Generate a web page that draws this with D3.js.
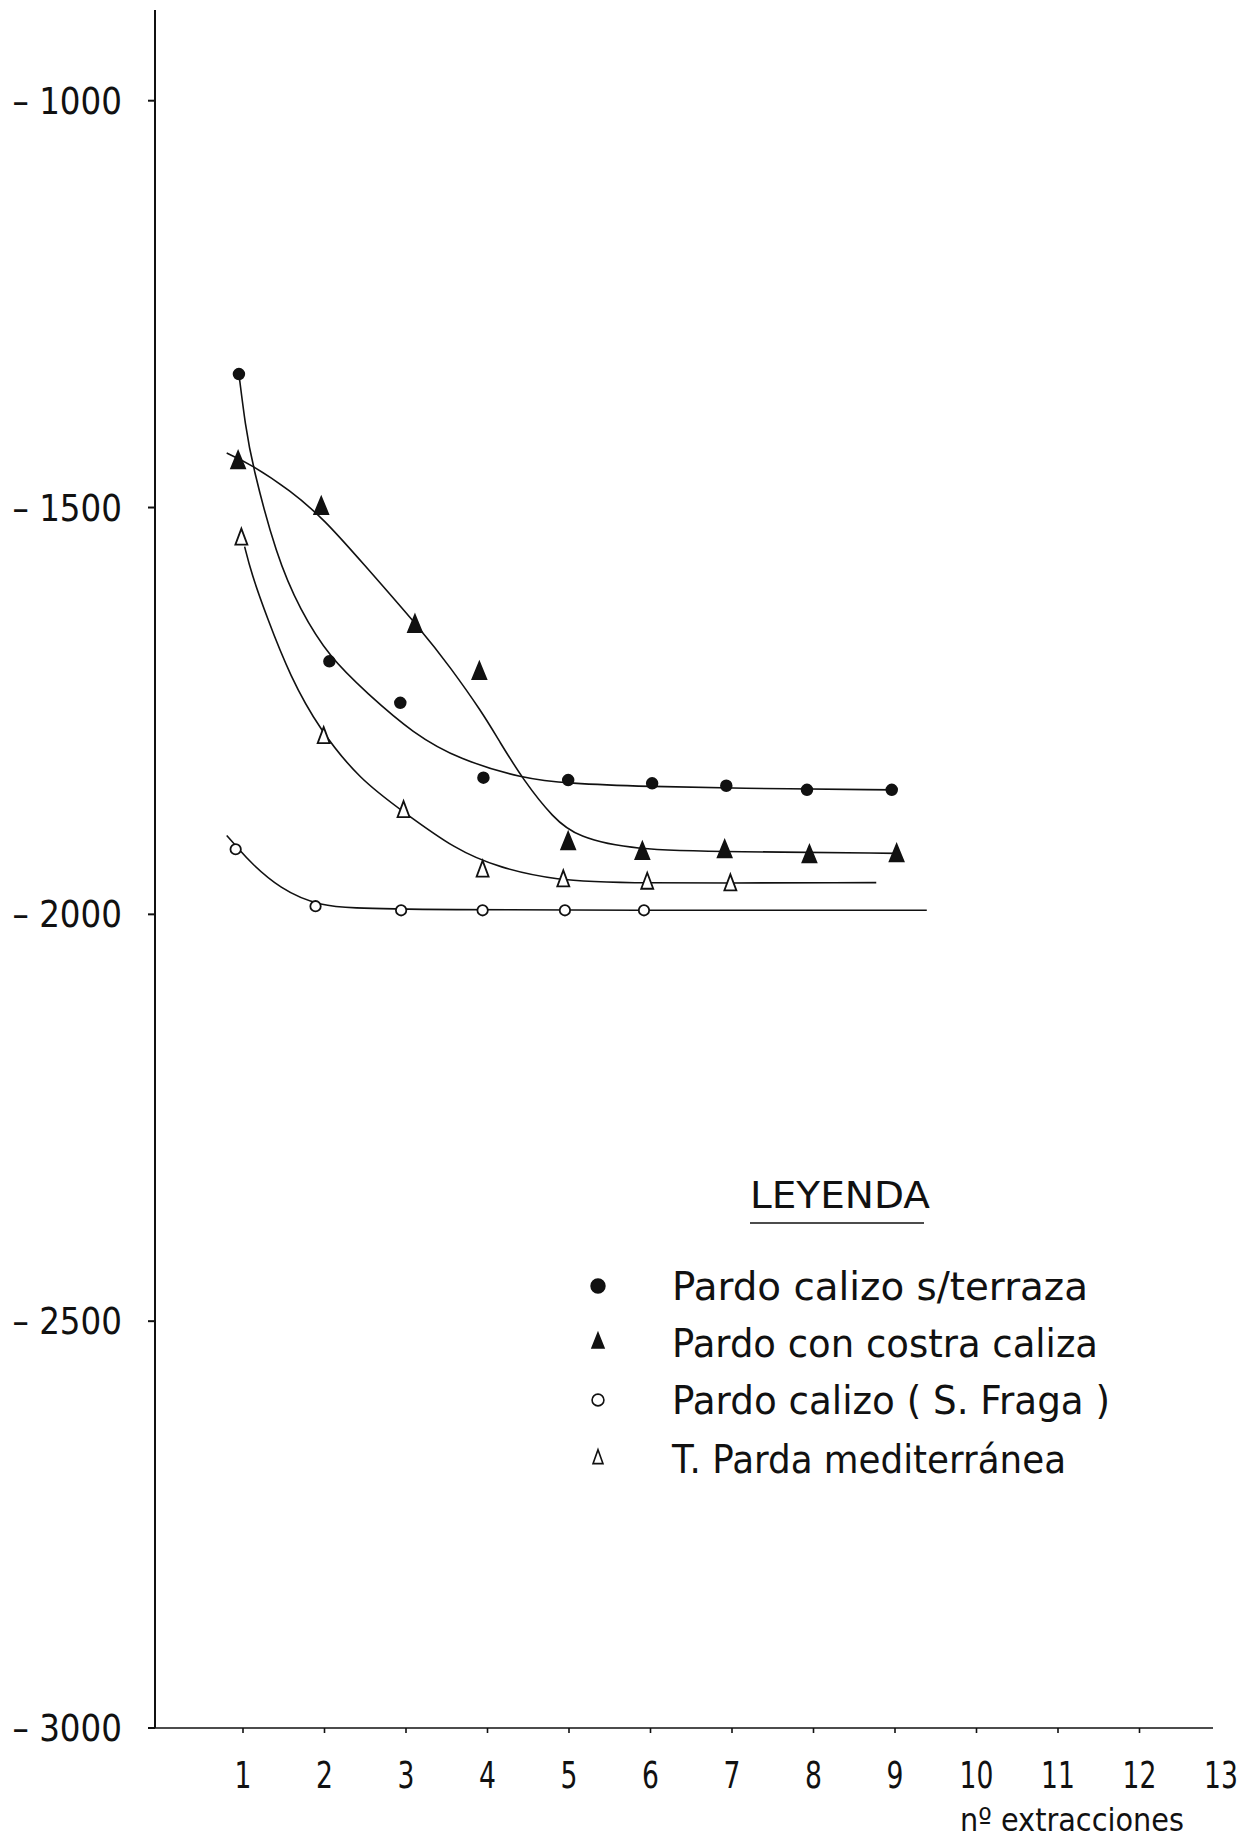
<!DOCTYPE html>
<html>
<head>
<meta charset="utf-8">
<script src="https://cdn.jsdelivr.net/npm/d3@7"></script>
<style>
  body { margin: 0; background: #fff; }
  text { font-family: "DejaVu Sans", "Liberation Sans", sans-serif; fill: #111; }
</style>
</head>
<body>
<div id="chart"></div>
<script>
// valores
const xTicks = [1, 2, 3, 4, 5, 6, 7, 8, 9, 10, 11, 12];
const xLabels = [1, 2, 3, 4, 5, 6, 7, 8, 9, 10, 11, 12, 13];
const yTicks = [-1000, -1500, -2000, -2500, -3000];

const seriesNames = ["Pardo calizo s/terraza", "Pardo con costra caliza", "Pardo calizo ( S. Fraga )", "T. Parda mediterránea"];

// puntos medidos [nº extracciones, valor]
const ptsCalizoTerraza = [[0.95, -1336], [2.06, -1689], [2.93, -1740], [3.95, -1832], [4.99, -1835], [6.02, -1839], [6.93, -1842], [7.92, -1847], [8.96, -1847]];
const ptsCostra = [[0.94, -1445], [1.96, -1501], [3.11, -1646], [3.90, -1704], [4.99, -1913], [5.90, -1925], [6.91, -1923], [7.95, -1929], [9.02, -1928]];
const ptsFraga = [[0.91, -1920], [1.89, -1990], [2.94, -1995], [3.94, -1995], [4.95, -1995], [5.92, -1995]];
const ptsParda = [[0.98, -1539], [1.99, -1783], [2.97, -1874], [3.94, -1947], [4.93, -1959], [5.96, -1962], [6.98, -1964]];

// curvas de ajuste trazadas a mano
const fitCalizoTerraza = [[0.95, -1336], [1.03, -1400], [1.11, -1446], [1.41, -1560], [1.70, -1626], [2.06, -1684], [2.52, -1728], [3.09, -1778], [3.66, -1810], [4.44, -1833], [4.97, -1839], [6.0, -1843], [7.0, -1845], [8.98, -1847]];
const fitCostra = [[0.80, -1433], [1.10, -1447], [1.58, -1479], [2.0, -1515], [2.44, -1565], [3.21, -1653], [3.54, -1696], [3.93, -1751], [4.15, -1788], [4.44, -1835], [4.81, -1882], [5.1, -1905], [5.79, -1921], [7.0, -1923], [9.02, -1925]];
const fitFraga = [[0.80, -1903], [0.95, -1920], [1.10, -1937], [1.45, -1968], [1.92, -1990], [2.6, -1995], [9.39, -1995]];
const fitParda = [[1.02, -1548], [1.10, -1580], [1.29, -1634], [1.58, -1708], [1.94, -1773], [2.44, -1835], [2.97, -1874], [3.6, -1920], [4.15, -1943], [4.85, -1958], [5.6, -1962], [8.77, -1961]];

const width = 1245, height = 1845;

const x = d3.scaleLinear().domain([0, 13]).range([161.5, 1221]);
const y = d3.scaleLinear().domain([-1000, -3000]).range([100.7, 1728]);

const svg = d3.select("#chart").append("svg")
  .attr("width", width).attr("height", height)
  .style("background", "#fff");

// texto estrecho, como el rotulado original
const narrow = (sel, tx, ty, sx) => sel.attr("transform", `translate(${tx},${ty}) scale(${sx},1)`);

// ejes
svg.append("line")
  .attr("x1", 155).attr("x2", 155)
  .attr("y1", 10).attr("y2", y(-3000))
  .attr("stroke", "#111").attr("stroke-width", 2);

svg.append("line")
  .attr("x1", 155).attr("x2", 1213)
  .attr("y1", y(-3000)).attr("y2", y(-3000))
  .attr("stroke", "#111").attr("stroke-width", 1.6);

svg.append("g").selectAll("line")
  .data(yTicks)
  .join("line")
  .attr("x1", 148).attr("x2", 155)
  .attr("y1", d => y(d)).attr("y2", d => y(d))
  .attr("stroke", "#111").attr("stroke-width", 2);

svg.append("g").selectAll("text")
  .data(yTicks)
  .join("text")
  .attr("text-anchor", "end")
  .attr("font-size", 37)
  .text(d => "\u2013 " + Math.abs(d))
  .each(function (d) { narrow(d3.select(this), 122, y(d) + 13, 0.88); });

svg.append("g").selectAll("line")
  .data(xTicks)
  .join("line")
  .attr("x1", d => x(d)).attr("x2", d => x(d))
  .attr("y1", y(-3000)).attr("y2", y(-3000) + 5)
  .attr("stroke", "#111").attr("stroke-width", 1.6);

svg.append("g").selectAll("text")
  .data(xLabels)
  .join("text")
  .attr("text-anchor", "middle")
  .attr("font-size", 37)
  .text(d => d)
  .each(function (d) { narrow(d3.select(this), x(d), 1788, 0.72); });

svg.append("text")
  .attr("x", 960).attr("y", 1831)
  .attr("font-size", 32)
  .attr("textLength", 224)
  .attr("lengthAdjust", "spacingAndGlyphs")
  .text("nº extracciones");

// curvas
const line = d3.line()
  .x(d => x(d[0])).y(d => y(d[1]))
  .curve(d3.curveBasis);

[fitCalizoTerraza, fitCostra, fitFraga, fitParda].forEach(f => {
  svg.append("path")
    .datum(f)
    .attr("d", line)
    .attr("fill", "none")
    .attr("stroke", "#111")
    .attr("stroke-width", 1.6);
});

// marcadores
const tri = (w, h) => `M0,${-h * 2 / 3}L${w / 2},${h / 3}L${-w / 2},${h / 3}Z`;

const markers = [
  { pts: ptsCalizoTerraza, shape: () => d3.symbol(d3.symbolCircle, 90)(), fill: "#111" },
  { pts: ptsCostra, shape: () => tri(14, 17), fill: "#111" },
  { pts: ptsFraga, shape: () => d3.symbol(d3.symbolCircle, 85)(), fill: "#fff" },
  { pts: ptsParda, shape: () => tri(12, 16), fill: "#fff" }
];

markers.forEach(m => {
  svg.append("g").selectAll("path")
    .data(m.pts)
    .join("path")
    .attr("transform", d => `translate(${x(d[0])},${y(d[1])})`)
    .attr("d", m.shape)
    .attr("fill", m.fill)
    .attr("stroke", "#111")
    .attr("stroke-width", 1.8);
});

// leyenda
svg.append("text")
  .attr("x", 750).attr("y", 1208)
  .attr("font-size", 38)
  .attr("textLength", 180)
  .attr("lengthAdjust", "spacingAndGlyphs")
  .text("LEYENDA");
svg.append("line")
  .attr("x1", 750).attr("x2", 924)
  .attr("y1", 1223).attr("y2", 1223)
  .attr("stroke", "#111").attr("stroke-width", 1.6);

const legendY = [1286, 1343, 1400, 1459];
const legendLen = [416, 426, 438, 394];
const legendShapes = [
  { d: d3.symbol(d3.symbolCircle, 150)(), fill: "#111" },
  { d: tri(12, 15), fill: "#111" },
  { d: d3.symbol(d3.symbolCircle, 110)(), fill: "#fff" },
  { d: tri(10, 14), fill: "#fff" }
];

const legend = svg.append("g");
seriesNames.forEach((name, i) => {
  legend.append("path")
    .attr("transform", `translate(598,${legendY[i]})`)
    .attr("d", legendShapes[i].d)
    .attr("fill", legendShapes[i].fill)
    .attr("stroke", "#111").attr("stroke-width", 1.6);
  legend.append("text")
    .attr("x", 672).attr("y", legendY[i] + 14)
    .attr("font-size", 39)
    .attr("textLength", legendLen[i])
    .attr("lengthAdjust", "spacingAndGlyphs")
    .text(name);
});
</script>
</body>
</html>
